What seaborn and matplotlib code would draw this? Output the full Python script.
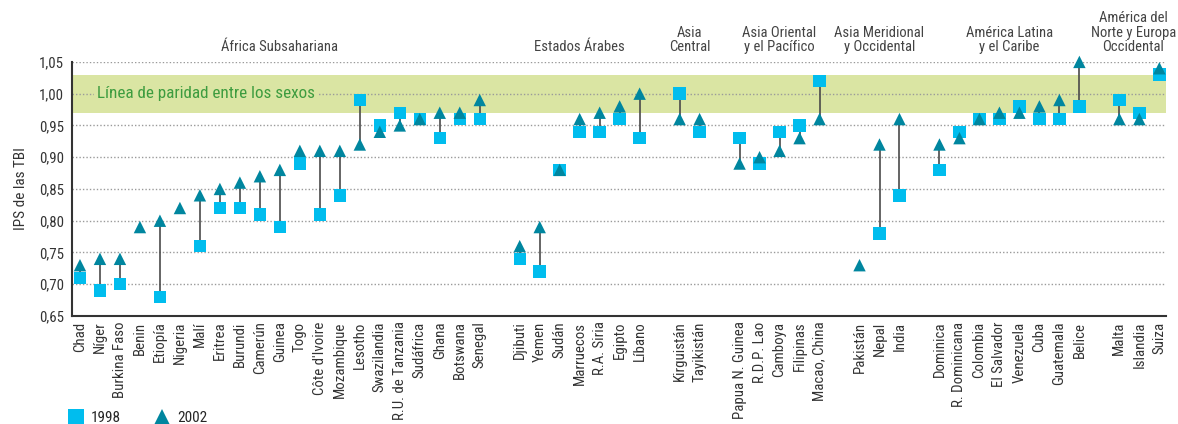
import numpy as np
import pandas as pd
import matplotlib
matplotlib.use("Agg")
import matplotlib.pyplot as plt
import matplotlib.transforms as mtransforms
import seaborn as sns

nan = np.nan

# Regions, in the order they appear, with the countries and their GPI values
regions = [
    "África Subsahariana",
    "Estados Árabes",
    "Asia\nCentral",
    "Asia Oriental\ny el Pacífico",
    "Asia Meridional\ny Occidental",
    "América Latina\ny el Caribe",
    "América del\nNorte y Europa\nOccidental",
]

africa = ["Chad", "Níger", "Burkina Faso", "Benin", "Etiopía", "Nigeria", "Malí",
          "Eritrea", "Burundi", "Camerún", "Guinea", "Togo", "Côte d'Ivoire",
          "Mozambique", "Lesotho", "Swazilandia", "R.U. de Tanzania", "Sudáfrica",
          "Ghana", "Botswana", "Senegal"]
africa_1998 = [0.71, 0.69, 0.70, nan, 0.68, nan, 0.76, 0.82, 0.82, 0.81, 0.79, 0.89,
               0.81, 0.84, 0.99, 0.95, 0.97, 0.96, 0.93, 0.96, 0.96]
africa_2002 = [0.73, 0.74, 0.74, 0.79, 0.80, 0.82, 0.84, 0.85, 0.86, 0.87, 0.88, 0.91,
               0.91, 0.91, 0.92, 0.94, 0.95, 0.96, 0.97, 0.97, 0.99]

arab = ["Djibuti", "Yemen", "Sudán", "Marruecos", "R.A. Siria", "Egipto", "Líbano"]
arab_1998 = [0.74, 0.72, 0.88, 0.94, 0.94, 0.96, 0.93]
arab_2002 = [0.76, 0.79, 0.88, 0.96, 0.97, 0.98, 1.00]

central = ["Kirguistán", "Tayikistán"]
central_1998 = [1.00, 0.94]
central_2002 = [0.96, 0.96]

east = ["Papua N. Guinea", "R.D.P. Lao", "Camboya", "Filipinas", "Macao, China"]
east_1998 = [0.93, 0.89, 0.94, 0.95, 1.02]
east_2002 = [0.89, 0.90, 0.91, 0.93, 0.96]

south = ["Pakistán", "Nepal", "India"]
south_1998 = [nan, 0.78, 0.84]
south_2002 = [0.73, 0.92, 0.96]

latam = ["Dominica", "R. Dominicana", "Colombia", "El Salvador", "Venezuela",
         "Cuba", "Guatemala", "Belice"]
latam_1998 = [0.88, 0.94, 0.96, 0.96, 0.98, 0.96, 0.96, 0.98]
latam_2002 = [0.92, 0.93, 0.96, 0.97, 0.97, 0.98, 0.99, 1.05]

north = ["Malta", "Islandia", "Suiza"]
north_1998 = [0.99, 0.97, 1.03]
north_2002 = [0.96, 0.96, 1.04]

y_ticks = [0.65, 0.70, 0.75, 0.80, 0.85, 0.90, 0.95, 1.00, 1.05]

# build a table, leaving one empty slot between regions
group_lists = [(africa, africa_1998, africa_2002), (arab, arab_1998, arab_2002),
               (central, central_1998, central_2002), (east, east_1998, east_2002),
               (south, south_1998, south_2002), (latam, latam_1998, latam_2002),
               (north, north_1998, north_2002)]

rows = []
centers = []
pos = 0
for names, v98, v02 in group_lists:
    start = pos
    for n, a, b in zip(names, v98, v02):
        rows.append({"pais": n, "x": pos, "1998": a, "2002": b})
        pos += 1
    centers.append((start + pos - 1) / 2)
    pos += 1
df = pd.DataFrame(rows)

long_df = df.melt(id_vars=["pais", "x"], value_vars=["1998", "2002"],
                  var_name="año", value_name="ips").dropna()

sns.set_style("white")
plt.rcParams["font.family"] = ["Roboto Condensed", "DejaVu Sans"]

fig = plt.figure(figsize=(11.78, 4.24), dpi=100)
ax = fig.add_axes([0.0611, 0.2547, 0.929, 0.5993])

# parity band and dotted grid
ax.axhspan(0.97, 1.03, color="#dae5a3", zorder=0, lw=0)
for yv in y_ticks[1:]:
    ax.axhline(yv, color="#9a9a9a", lw=1, ls=(0, (1, 1.5)), zorder=1)

# lines joining the two years
ax.vlines(df["x"], df["1998"], df["2002"], color="#4a4a4a", lw=1.2, zorder=2)

sns.scatterplot(data=long_df, x="x", y="ips", hue="año", style="año",
                markers={"1998": "s", "2002": "^"},
                palette={"1998": "#00bdee", "2002": "#00869f"},
                s=80, linewidth=0, ax=ax, zorder=3, clip_on=False)

ax.text(0.85, 1.0, "Línea de paridad entre los sexos", color="#3d9c3f",
        fontsize=12.3, va="center", ha="left", zorder=2,
        bbox=dict(facecolor="#dae5a3", edgecolor="none", pad=2))

ax.set_xlim(-0.4, pos - 1 - 0.65)
ax.set_ylim(0.65, 1.05)
ax.set_yticks(y_ticks)
ax.set_yticklabels([f"{v:.2f}".replace(".", ",") for v in y_ticks])
ax.set_xticks(df["x"])
ax.set_xticklabels(df["pais"], rotation=90, va="top", ha="center")
ax.tick_params(axis="both", length=0, labelsize=10.7, colors="#333333")
ax.tick_params(axis="x", pad=4)
ax.tick_params(axis="y", pad=6)
ax.set_xlabel("")
ax.set_ylabel("IPS de las TBI", fontsize=11, color="#333333", labelpad=8)

for side in ["top", "right"]:
    ax.spines[side].set_visible(False)
for side in ["left", "bottom"]:
    ax.spines[side].set_color("#333333")
    ax.spines[side].set_linewidth(1.5)

# region titles above the plot
trans = mtransforms.blended_transform_factory(ax.transData, ax.transAxes)
for i, (label, cx) in enumerate(zip(regions, centers)):
    shift = -0.3 if i == len(regions) - 1 else 0
    ax.text(cx + shift, 1.03, label, transform=trans, ha="center", va="bottom",
            fontsize=10.5, color="#444444", linespacing=1.05)

sns.move_legend(ax, "lower left", bbox_to_anchor=(0.046, -0.035),
                bbox_transform=fig.transFigure, ncol=2, title=None,
                frameon=False, fontsize=11, markerscale=1.3,
                handlelength=1.0, handletextpad=0.5, columnspacing=2.2)

fig.savefig("out.png", dpi=100)
